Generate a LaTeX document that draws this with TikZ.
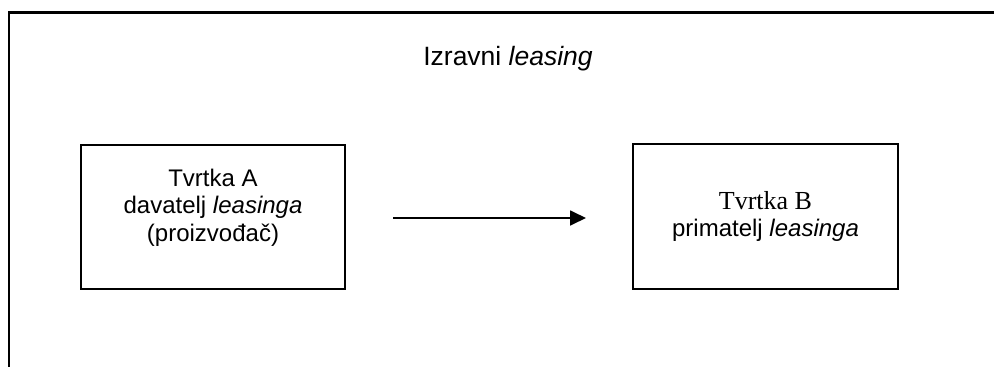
\documentclass[tikz,border=0pt]{standalone}
\usepackage{fontspec}
\setmainfont{Liberation Sans}
\newfontfamily\timesf{Liberation Serif}
\usetikzlibrary{arrows.meta}
\tikzset{
  boxnode/.style={draw, line width=2pt, minimum width=264pt, minimum height=144pt, inner sep=0pt, outer sep=0pt},
  txt/.style={align=center, inner sep=0pt, font=\fontsize{24}{27.5}\selectfont},
  frame/.style={line width=2.2pt},
  arr/.style={line width=1.8pt, -{Triangle[length=16pt,width=15pt]}}
}
\begin{document}
\begin{tikzpicture}[x=1pt,y=-1pt]
\useasboundingbox (0,0) rectangle (994,367);
\coordinate (f1) at (9,367);
\coordinate (f2) at (9,12.5);
\coordinate (f3) at (994,12.5);
\draw[frame] (f1) -- (f2) -- (f3);
\node[anchor=base, inner sep=0pt, font=\fontsize{26.5}{30}\selectfont] (title) at (508,65.7) {Izravni \textit{leasing}};
\node[boxnode] (boxA) at (213,217) {};
\node[boxnode, minimum width=265pt, minimum height=145pt] (boxB) at (765.5,216.5) {};
\node[txt, yshift=9.6pt] (tA) at (boxA.center) {Tvrtka A\\davatelj \textit{leasinga}\\(proizvođač)};
\node[txt] (tB) at (boxB.center) {{\timesf\fontsize{26}{27.7}\selectfont Tvrtka B}\\primatelj \textit{leasinga}};
\coordinate (a1) at (393,218);
\coordinate (a2) at (586,218);
\draw[arr] (a1) -- (a2);
\end{tikzpicture}
\end{document}
